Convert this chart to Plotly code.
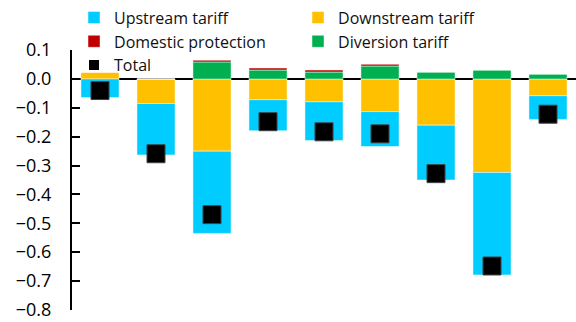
import plotly.graph_objects as go

categories = ["C1", "C2", "C3", "C4", "C5", "C6", "C7", "C8", "C9"]
upstream = [-0.064, -0.178, -0.285, -0.107, -0.134, -0.121, -0.190, -0.355, -0.082]
downstream = [0.024, -0.085, -0.250, -0.072, -0.079, -0.113, -0.160, -0.324, -0.058]
domestic = [0.0, 0.0, 0.006, 0.007, 0.007, 0.006, 0.0, 0.0, 0.0]
diversion = [0.0, 0.0, 0.059, 0.031, 0.024, 0.045, 0.024, 0.031, 0.017]
total = [-0.040, -0.259, -0.470, -0.148, -0.183, -0.190, -0.328, -0.648, -0.122]

FONT = "Open Sans"
edge = dict(color="rgba(255,255,255,0.45)", width=1)

fig = go.Figure()
fig.add_trace(go.Bar(x=categories, y=downstream, name="Downstream tariff",
                     marker=dict(color="#FFC000", line=edge), width=0.68, legendrank=2))
fig.add_trace(go.Bar(x=categories, y=upstream, name="Upstream tariff",
                     marker=dict(color="#00CCFF", line=edge), width=0.68, legendrank=1))
fig.add_trace(go.Bar(x=categories, y=diversion, name="Diversion tariff",
                     marker=dict(color="#00B050", line=edge), width=0.68, legendrank=4))
fig.add_trace(go.Bar(x=categories, y=domestic, name="Domestic protection",
                     marker=dict(color="#C00000", line=edge), width=0.68, legendrank=3))
fig.add_trace(go.Scatter(x=categories, y=total, mode="markers", name="Total",
                         marker=dict(symbol="square", size=18, color="black",
                                     line=dict(color="#404040", width=1)),
                         showlegend=False))
fig.add_trace(go.Scatter(x=[None], y=[None], mode="markers", name="Total",
                         marker=dict(symbol="square", size=10, color="black"),
                         legendrank=5))

fig.update_layout(
    width=576, height=322,
    margin=dict(l=72, r=0, t=50, b=12, autoexpand=False),
    barmode="relative",
    plot_bgcolor="white", paper_bgcolor="white",
    font=dict(family=FONT, color="black", size=16),
    showlegend=True,
    legend=dict(orientation="h", x=0.004, xanchor="left", y=1.19, yanchor="top",
                entrywidth=179, entrywidthmode="pixels",
                font=dict(family=FONT, size=16, color="#111111"),
                bgcolor="rgba(0,0,0,0)", itemwidth=30, tracegroupgap=0),
    xaxis=dict(type="category", range=[-0.5, 8.5], showticklabels=False,
               ticks="", showline=False, showgrid=False, zeroline=False,
               automargin=False),
    yaxis=dict(range=[-0.8005, 0.1005], dtick=0.1, tick0=0, tickformat=".1f",
               ticks="inside", ticklen=8, tickwidth=2, tickcolor="black",
               showline=True, linecolor="black", linewidth=2,
               showgrid=False, zeroline=True, zerolinecolor="black", zerolinewidth=2,
               tickfont=dict(family=FONT, size=18, color="black"),
               ticklabelstandoff=15, ticklabeloverflow="allow", automargin=False),
)

fig.write_html("out.html")
